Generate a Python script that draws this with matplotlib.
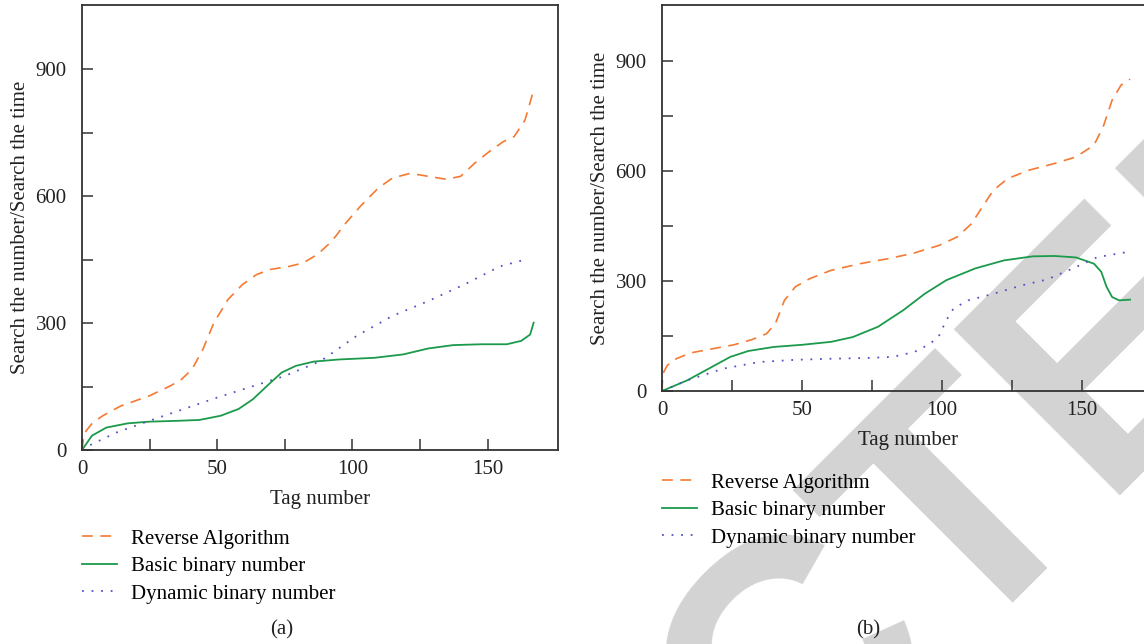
import numpy as np
import matplotlib
matplotlib.use("Agg")
import matplotlib.pyplot as plt
from matplotlib.ticker import FixedLocator, FuncFormatter

plt.rcParams['font.family'] = ['Liberation Serif', 'DejaVu Serif']
plt.rcParams['font.size'] = 15

# ---- panel (a) values
a_rev_x = [0, 0.5, 1.5, 4, 7.7, 14.3, 24.9, 32.8, 36.8, 40.7, 44.7, 48.7, 54, 59.3, 64.6, 69.8,
           76.5, 81.7, 87, 92.3, 97.6, 102.9, 109.5, 114.8, 121.4, 128, 134.7, 140, 145.2,
           150.5, 155.8, 159.8, 163.8, 167]
a_rev_y = [0, 25, 45, 65, 81, 104, 128, 152, 167, 191, 238, 300, 356, 391, 415, 427,
           434, 442, 462, 493, 537, 576, 619, 643, 654, 647, 640, 647, 678,
           705, 729, 741, 780, 851]
a_bas_x = [0, 3.7, 9, 16.9, 24.9, 35.4, 43.4, 51.3, 57.9, 63.2, 68.5, 73.8, 79.1, 85.7, 95,
           108.2, 118.8, 128, 137.3, 147.9, 157.1, 162.4, 165.7, 167]
a_bas_y = [0, 34, 53, 63, 67, 69, 71, 81, 97, 120, 152, 183, 199, 209, 214,
           218, 226, 240, 248, 250, 250, 258, 273, 301]
a_dyn_x = [0, 3.7, 13, 24.9, 50, 75, 88.4, 101.6, 114.8, 128, 141.3, 154.5, 163.8]
a_dyn_y = [0, 14, 42, 69, 124, 175, 211, 270, 317, 352, 391, 434, 450]

# ---- panel (b)
b_rev_x = [0, 0.3, 1.9, 5.1, 10.3, 18, 25.7, 32.1, 37.3, 40.5, 43.7, 47.6, 52.7, 60.4, 70.7,
           81, 90, 99, 105.4, 110.5, 114.4, 118.3, 123.4, 131.1, 140.1, 147.8, 154.2, 157.5,
           160.7, 163.9, 167.1]
b_rev_y = [0, 47, 70, 88, 104, 115, 126, 140, 156, 184, 247, 284, 306, 329, 347,
           361, 376, 397, 420, 456, 502, 547, 579, 602, 620, 638, 670, 720,
           793, 834, 850]
b_bas_x = [0, 9, 16.7, 24.4, 30.8, 39.8, 50.1, 60.4, 68.1, 77.1, 86.1, 93.8, 101.5, 111.8,
           122.1, 132.4, 140.1, 147.8, 154.2, 156.8, 158.7, 160.7, 163.2, 167.1]
b_bas_y = [0, 29, 61, 93, 109, 120, 126, 134, 147, 175, 220, 265, 302, 334,
           356, 367, 368, 364, 347, 325, 284, 256, 247, 249]
b_dyn_x = [0, 9, 21.9, 34.7, 47.6, 60.4, 73.3, 82.3, 90, 95.8, 99, 101.5, 104.1, 109.3,
           118.3, 128.5, 137.5, 147.8, 155.5, 166.4]
b_dyn_y = [0, 29, 61, 79, 85, 88, 90, 93, 106, 129, 152, 193, 225, 247,
           265, 288, 304, 338, 365, 379]

labels = ["Reverse Algorithm", "Basic binary number", "Dynamic binary number"]
x_ticks = [0, 25, 50, 75, 100, 125, 150]
y_ticks = [0, 150, 300, 450, 600, 750, 900]
c_rev, c_bas, c_dyn = "#F47A33", "#1B9A4B", "#5252C4"

fig = plt.figure(figsize=(11.44, 6.44), dpi=100)
W, H = 1144, 644


def px_axes(l, r, b, t):
    return fig.add_axes([l / W, 1 - b / H, (r - l) / W, (b - t) / H])


def style(ax):
    ax.set_facecolor("none")
    ax.set_xlim(0, 176)
    ax.set_ylim(0, 1052)
    ax.xaxis.set_major_locator(FixedLocator(x_ticks))
    ax.yaxis.set_major_locator(FixedLocator(y_ticks))
    ax.xaxis.set_major_formatter(FuncFormatter(lambda v, p: f"{v:.0f}" if v % 50 == 0 else ""))
    ax.yaxis.set_major_formatter(FuncFormatter(lambda v, p: f"{v:.0f}" if v % 300 == 0 else ""))
    ax.tick_params(direction="in", length=8, width=1.1, color="#333333", labelcolor="#222222")
    ax.tick_params(axis="y", pad=11)
    ax.tick_params(axis="x", pad=7)
    for s in ax.spines.values():
        s.set_linewidth(1.3)
        s.set_color("#333333")
    ax.set_xlabel("Tag number", color="#222222", labelpad=8)
    ax.set_ylabel("Search the number/Search the time", color="#222222", labelpad=4)


def draw(ax, rx, ry, bx, by, dx, dy):
    h1, = ax.plot(rx, ry, color=c_rev, lw=1.2, dashes=(6.5, 4.5), label=labels[0])
    h2, = ax.plot(bx, by, color=c_bas, lw=1.3, label=labels[1])
    h3, = ax.plot(dx, dy, color=c_dyn, lw=1.3, dashes=(1, 4.3), label=labels[2])
    return [h1, h2, h3]


ax1 = px_axes(82, 558, 450, 5)
hs = draw(ax1, a_rev_x, a_rev_y, a_bas_x, a_bas_y, a_dyn_x, a_dyn_y)
style(ax1)
fig.legend(handles=hs, loc="upper left", bbox_to_anchor=(82 / W, 1 - 529 / H), frameon=False,
           borderpad=0, borderaxespad=0, handlelength=1.7, handletextpad=0.65, labelspacing=0.38,
           fontsize=15)

ax2 = px_axes(662, 1155, 391, 5)
hs = draw(ax2, b_rev_x, b_rev_y, b_bas_x, b_bas_y, b_dyn_x, b_dyn_y)
style(ax2)
fig.legend(handles=hs, loc="upper left", bbox_to_anchor=(662 / W, 1 - 473 / H), frameon=False,
           borderpad=0, borderaxespad=0, handlelength=1.7, handletextpad=0.65, labelspacing=0.38,
           fontsize=15)

fig.text(282 / W, 1 - 630 / H, "(a)", ha="center", va="center", fontsize=15, color="#222222")
fig.text(868 / W, 1 - 630 / H, "(b)", ha="center", va="center", fontsize=15, color="#222222")

# watermark
fig.text(689 / W, 1 - 904 / H, "RETRACTED", rotation=45, rotation_mode="anchor",
         ha="center", va="baseline", fontsize=246, family="Liberation Sans", weight="bold",
         color="#d3d3d3", zorder=-5)

fig.savefig("out.png", dpi=100)
